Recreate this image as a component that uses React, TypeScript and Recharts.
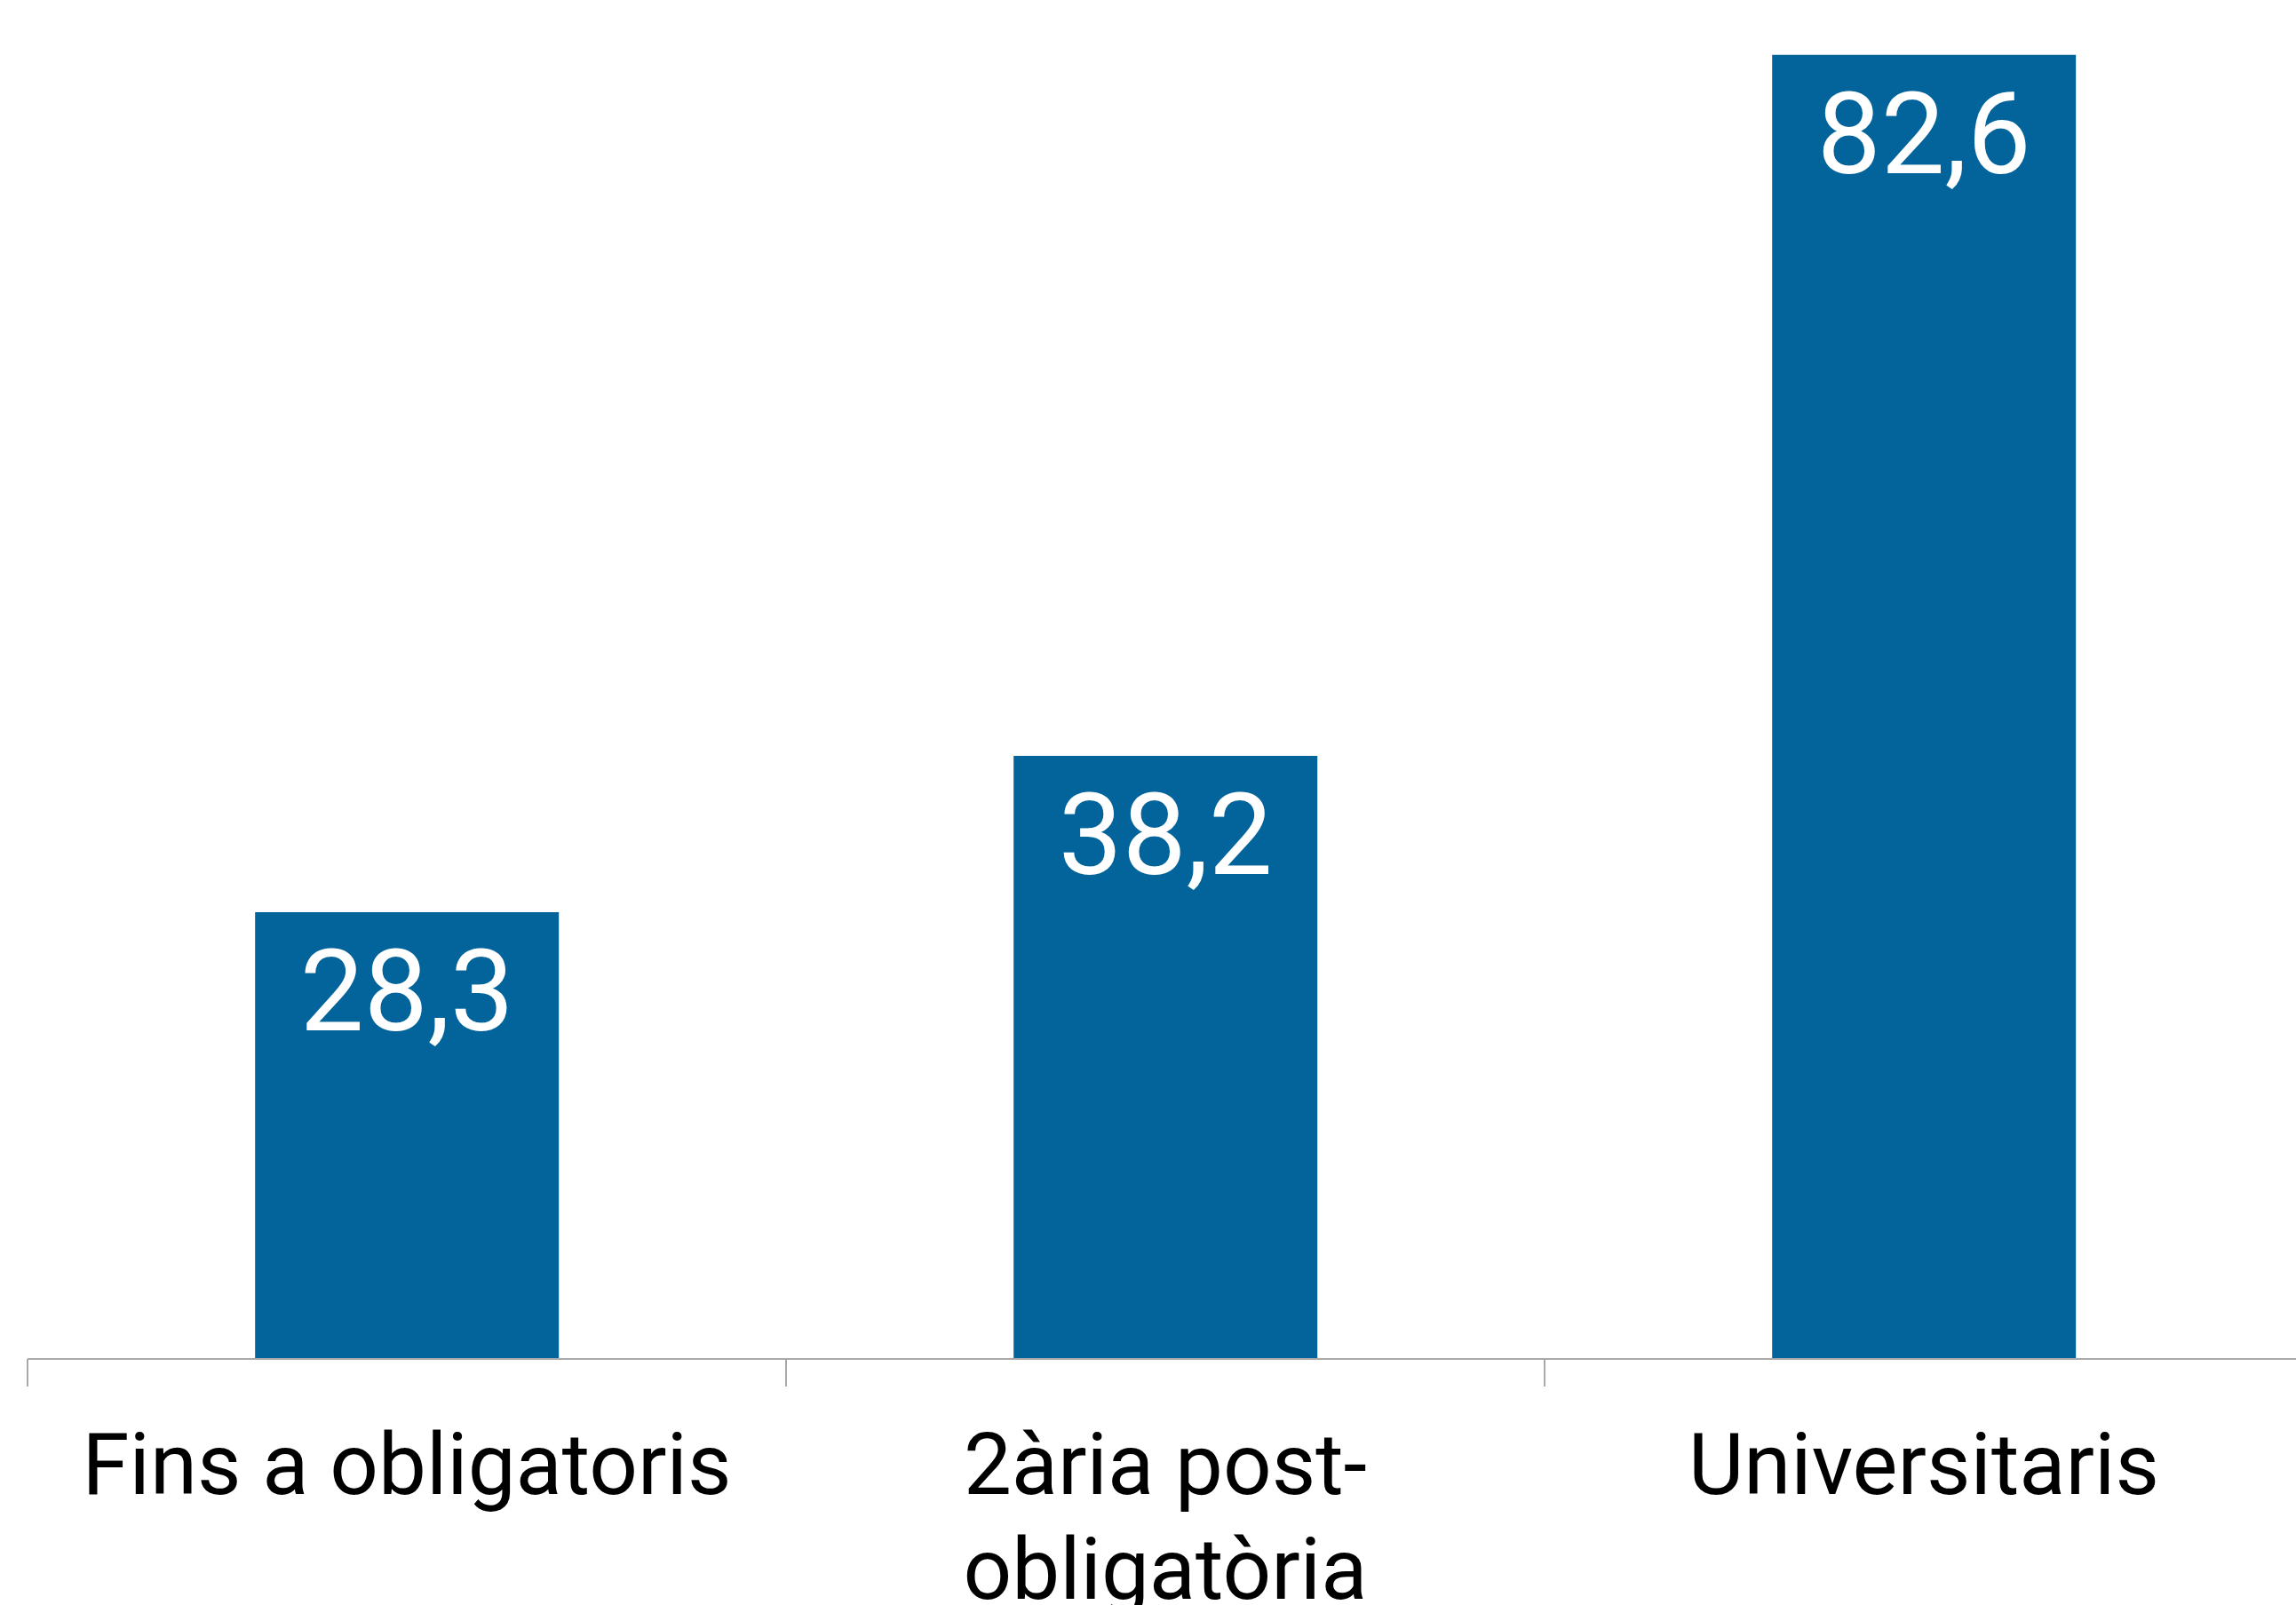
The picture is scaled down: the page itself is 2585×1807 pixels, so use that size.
import { Bar, BarChart, LabelList, XAxis, YAxis } from "recharts";

const categories = ["Fins a obligatoris", "2ària post-obligatòria", "Universitaris"];
const values = [28.3, 38.2, 82.6];

const data = categories.map((name, i) => ({ name, value: values[i] }));

const AXIS_GREY = "#a9a9a9";
const BAR_BLUE = "#02649b";
const FONT = "Roboto, 'Noto Sans', sans-serif";

// long labels break after the hyphen, like the source chart does
function splitLabel(label: string): string[] {
  const cut = label.indexOf("-");
  if (label.length > 20 && cut > 0) {
    return [label.slice(0, cut + 1), label.slice(cut + 1)];
  }
  return [label];
}

function CategoryTick(props: any) {
  const { x, y, payload, width, visibleTicksCount } = props;
  const band = width && visibleTicksCount ? width / visibleTicksCount : 854;
  const lines = splitLabel(String(payload.value));
  return (
    <g>
      {/* tick marks sit on the band boundaries, not under the bars */}
      <line x1={x - band / 2} x2={x - band / 2} y1={y} y2={y + 31} stroke={AXIS_GREY} strokeWidth={2} />
      <text x={x} y={y + 84} textAnchor="middle" fontSize={96} fill="#000" fontFamily={FONT}>
        {lines.map((line, i) => (
          <tspan key={i} x={x} dy={i === 0 ? "0.71em" : "1.23em"}>
            {line}
          </tspan>
        ))}
      </text>
    </g>
  );
}

export default function App() {
  return (
    <div style={{ position: "fixed", left: 0, top: 0, width: 2585, height: 1807, overflow: "hidden", background: "#fff" }}>
      <BarChart
        width={2593}
        height={1807}
        data={data}
        margin={{ top: 19, right: 0, bottom: 0, left: 31 }}
        barCategoryGap="30%"
      >
        <XAxis
          dataKey="name"
          height={277}
          interval={0}
          tickLine={false}
          tickSize={0}
          tickMargin={0}
          axisLine={{ stroke: AXIS_GREY, strokeWidth: 2 }}
          tick={<CategoryTick />}
        />
        <YAxis hide domain={[0, 85]} />
        <Bar dataKey="value" fill={BAR_BLUE} isAnimationActive={false}>
          <LabelList
            dataKey="value"
            position="insideTop"
            offset={42}
            fill="#fff"
            fontSize={128}
            fontFamily={FONT}
            formatter={(v: any) => String(v).replace(".", ",")}
          />
        </Bar>
      </BarChart>
    </div>
  );
}
